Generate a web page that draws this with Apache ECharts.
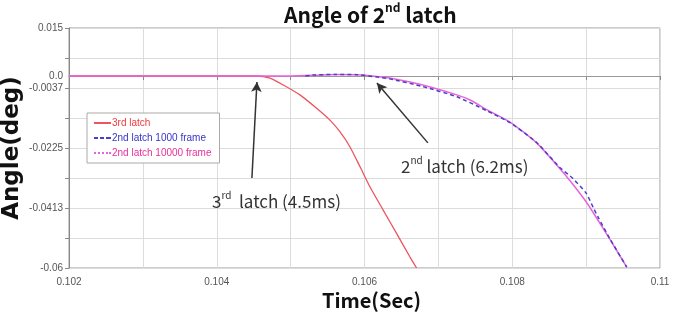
<!DOCTYPE html>
<html>
<head>
<meta charset="utf-8">
<script src="https://cdn.jsdelivr.net/npm/echarts@6/dist/echarts.min.js"></script>
<style>
  html, body { margin: 0; padding: 0; background: #fff; }
  #chart { width: 674px; height: 312px; }
</style>
</head>
<body>
<div id="chart"></div>
<script>
// 3rd latch
const latch3Time = [0.102, 0.1045, 0.10454, 0.10472, 0.10490, 0.105126, 0.105352, 0.105532, 0.105667, 0.105802, 0.105938, 0.106073, 0.106253, 0.106434, 0.106614, 0.106705]
const latch3Angle = [0, 0, 0, -0.0007, -0.0028, -0.0059, -0.0101, -0.0138, -0.0174, -0.0221, -0.0283, -0.0346, -0.0419, -0.0492, -0.0565, -0.06]

// 2nd latch 1000 frame
const frame1000Time = [0.1052, 0.1053, 0.1056, 0.1059, 0.1062, 0.10634, 0.10679, 0.10725, 0.10766, 0.10797, 0.10833, 0.10864, 0.10882, 0.10900, 0.10910, 0.10916, 0.10932, 0.10955]
const frame1000Angle = [0, 0.0003, 0.0005, 0.0004, -0.0004, -0.0009, -0.0033, -0.0065, -0.0109, -0.0146, -0.0208, -0.0285, -0.0320, -0.0366, -0.0413, -0.0440, -0.0508, -0.0597]

// 2nd latch 10000 frame
const frame10000Time = [0.102, 0.1050, 0.1053, 0.1056, 0.1059, 0.1062, 0.10634, 0.10679, 0.10725, 0.10743, 0.10766, 0.10797, 0.10833, 0.10864, 0.10882, 0.10900, 0.10914, 0.10932, 0.10955]
const frame10000Angle = [0, 0, 0.0002, 0.0005, 0.0004, -0.0002, -0.0006, -0.0028, -0.0059, -0.0075, -0.0106, -0.0144, -0.0209, -0.0288, -0.0338, -0.0393, -0.0443, -0.0510, -0.0597]

// y tick labels
const yTickValues = [0.015, 0, -0.00375, -0.0225, -0.04125, -0.06]
const yTickLabels = ['0.015', '0.0', '-0.0037', '-0.0225', '-0.0413', '-0.06']

// arrows: [tail, head]
const arrow3rd = [[0.104476, -0.0319], [0.104544, -0.0019]]
const arrow2nd = [[0.106858, -0.0209], [0.106168, -0.0022]]

const zip = (xs, ys) => xs.map((x, i) => [x, ys[i]])

const kr = '"Noto Sans CJK KR", "Noto Sans", sans-serif'
const arial = '"Liberation Sans", Arial, sans-serif'

// rich text with superscript
const supRich = (size, sup, weight, color, lh) => ({
  n: { fontSize: size, fontFamily: kr, color: color, fontWeight: weight, lineHeight: lh },
  s: { fontSize: sup, fontFamily: kr, color: color, fontWeight: weight, verticalAlign: 'top', lineHeight: lh - 4 }
})

const chart = echarts.init(document.getElementById('chart'))

chart.setOption({
  animation: false,
  title: [
    {
      text: '{n|Angle of 2}{s|nd}{n| latch}',
      left: 279,
      top: -4,
      textStyle: { fontWeight: 'normal', rich: supRich(21, 12, 'bold', '#111', 28) }
    },
    {
      text: '{n|3}{s|rd}{n|  latch (4.5ms)}',
      left: 207,
      top: 185,
      textStyle: { fontWeight: 'normal', rich: supRich(17, 10, 'normal', '#333', 24) }
    },
    {
      text: '{n|2}{s|nd}{n| latch (6.2ms)}',
      left: 396,
      top: 150,
      textStyle: { fontWeight: 'normal', rich: supRich(17, 10, 'normal', '#333', 24) }
    }
  ],
  legend: {
    orient: 'vertical',
    left: 87,
    top: 113,
    itemWidth: 17,
    itemHeight: 2,
    itemGap: 5,
    padding: [5, 8, 5, 7],
    borderColor: '#aaa',
    borderWidth: 1,
    backgroundColor: '#fff',
    textStyle: { fontSize: 10, fontFamily: arial, padding: [0, 0, 0, -4] },
    data: [
      { name: '3rd latch', icon: 'path://M0,0h17v2h-17z', textStyle: { color: '#f03a3a' } },
      { name: '2nd latch 1000 frame', icon: 'path://M0,0h4v2h-4zM6,0h4v2h-4zM12,0h5v2h-5z', textStyle: { color: '#3434c8' } },
      { name: '2nd latch 10000 frame', icon: 'path://M0,0h2v2h-2zM4,0h2v2h-2zM8,0h2v2h-2zM12,0h2v2h-2zM15,0h2v2h-2z', textStyle: { color: '#e8309c' } }
    ]
  },
  grid: {
    left: 69,
    right: 14,
    top: 28,
    bottom: 44,
    outerBoundsMode: 'none',
    containLabel: false,
    show: true,
    borderColor: '#999',
    borderWidth: 1
  },
  xAxis: {
    type: 'value',
    min: 0.102,
    max: 0.11,
    interval: 0.001,
    name: 'Time(Sec)',
    nameLocation: 'middle',
    nameGap: 22,
    nameMoveOverlap: false,
    nameTextStyle: { fontSize: 20, fontWeight: 'bold', fontFamily: kr, color: '#111', padding: [0, 0, 0, 14] },
    axisLine: { show: true, lineStyle: { color: '#888' } },
    axisTick: { show: true, length: 4, lineStyle: { color: '#888' } },
    axisLabel: {
      color: '#555',
      fontSize: 10,
      margin: 9,
      fontFamily: arial,
      formatter: v => (Math.round(v * 1000) % 2 === 0 ? String(+v.toFixed(3)) : '')
    },
    splitLine: { show: true, lineStyle: { color: '#dcdcdc' } }
  },
  yAxis: [
    {
      type: 'value',
      min: -0.06,
      max: 0.015,
      name: 'Angle(deg)',
      nameLocation: 'middle',
      nameGap: 45,
      nameMoveOverlap: false,
      nameTextStyle: { fontSize: 23, fontWeight: 'bold', fontFamily: '"DejaVu Sans", sans-serif', color: '#111' },
      axisLine: { show: true, lineStyle: { color: '#888' } },
      axisTick: { show: false },
      splitLine: { show: false },
      axisLabel: {
        color: '#555',
        fontSize: 10,
        margin: 6,
        fontFamily: arial,
        customValues: yTickValues,
        formatter: v => {
          const i = yTickValues.findIndex(t => Math.abs(t - v) < 1e-9)
          return i >= 0 ? yTickLabels[i] : ''
        }
      }
    },
    {
      type: 'value',
      position: 'left',
      min: 0,
      max: 8,
      interval: 1,
      axisLine: { show: false },
      axisTick: { show: true, length: 4, lineStyle: { color: '#888' } },
      axisLabel: { show: false },
      splitLine: { show: true, lineStyle: { color: '#dcdcdc' } }
    }
  ],
  series: [
    {
      name: '3rd latch',
      type: 'line',
      yAxisIndex: 0,
      z: 2,
      symbol: 'none',
      smooth: 0.2,
      color: '#ec5560',
      lineStyle: { width: 1.3, color: '#ec5560' },
      data: zip(latch3Time, latch3Angle),
      markLine: {
        silent: true,
        z: 1,
        symbol: ['none', 'none'],
        label: { show: false },
        lineStyle: { color: '#999', width: 1, type: 'solid' },
        data: [{ yAxis: 0 }]
      }
    },
    {
      name: '2nd latch 10000 frame',
      type: 'line',
      yAxisIndex: 0,
      z: 3,
      symbol: 'none',
      smooth: 0.2,
      color: '#e664dc',
      lineStyle: { width: 1.5, color: '#e664dc' },
      data: zip(frame10000Time, frame10000Angle),
      markLine: {
        silent: true,
        symbol: ['none', 'arrow'],
        symbolSize: [8, 10],
        label: { show: false },
        lineStyle: { color: '#333', width: 1.5, type: 'solid' },
        data: [
          [{ coord: arrow3rd[0] }, { coord: arrow3rd[1] }],
          [{ coord: arrow2nd[0] }, { coord: arrow2nd[1] }]
        ]
      }
    },
    {
      name: '2nd latch 1000 frame',
      type: 'line',
      yAxisIndex: 0,
      z: 4,
      symbol: 'none',
      smooth: 0.2,
      color: '#4a40c8',
      lineStyle: { width: 1.5, color: '#4a40c8', type: [4, 3] },
      data: zip(frame1000Time, frame1000Angle)
    }
  ]
})
</script>
</body>
</html>
